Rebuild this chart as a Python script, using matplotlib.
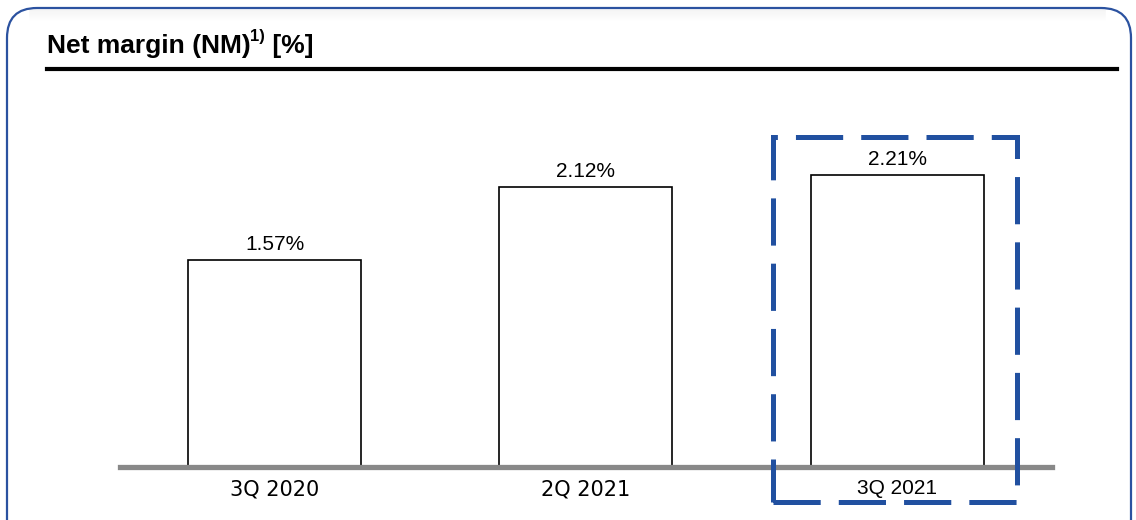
import numpy as np
import matplotlib
matplotlib.use("Agg")
import matplotlib.pyplot as plt
from matplotlib.patches import FancyBboxPatch, Rectangle
from matplotlib.transforms import IdentityTransform

categories = ["3Q 2020", "2Q 2021", "3Q 2021"]
values = [1.57, 2.12, 2.21]
value_labels = ["1.57%", "2.12%", "2.21%"]
tick_fonts = ["DejaVu Sans", "DejaVu Sans", "Liberation Sans"]

W, H, DPI = 1136, 520, 100
fig = plt.figure(figsize=(W / DPI, H / DPI), dpi=DPI)
fig.patch.set_facecolor("white")

# outer rounded frame (pixel coords)
frame = FancyBboxPatch((7, -30), 1124, H - 8 + 30,
                       boxstyle="round,pad=0,rounding_size=30",
                       transform=IdentityTransform(), fill=False,
                       edgecolor="#2b52a0", linewidth=1.6, zorder=5)
fig.patches.append(frame)
# faint shadow under top edge
for i, a in enumerate(np.linspace(0.05, 0.0, 12)):
    fig.add_artist(plt.Line2D([30 / W, 1105 / W], [1 - (10 + i) / H] * 2,
                              color="grey", alpha=a, lw=1.2))

# title
t1 = fig.text(47 / W, 1 - 53 / H, "Net margin (NM)", fontsize=19,
              fontweight="bold", family="Liberation Sans", va="baseline")
t2 = fig.text(0, 0, "1)", fontsize=12, fontweight="bold",
              family="Liberation Sans", va="baseline")
t3 = fig.text(0, 0, " [%]", fontsize=19, fontweight="bold",
              family="Liberation Sans", va="baseline")
fig.canvas.draw()
r = fig.canvas.get_renderer()
bb = t1.get_window_extent(r)
t2.set_position(((bb.x1 - 1) / W, 1 - 41 / H))
bb2 = t2.get_window_extent(r)
t3.set_position((bb2.x1 / W, 1 - 53 / H))
fig.add_artist(plt.Line2D([47 / W, 1117 / W], [1 - 69 / H] * 2,
                          color="black", lw=3.0))

ax = fig.add_axes([120 / W, 53 / H, 932 / W, 370 / H])
x = np.arange(len(categories))
ax.bar(x, values, width=0.556, color="white", edgecolor="black", linewidth=1.2, zorder=2)
for xi, v, lab in zip(x, values, value_labels):
    ax.annotate(lab, (xi, v), xytext=(0, 4), textcoords="offset points",
                ha="center", va="bottom", fontsize=15, family="Liberation Sans")
ax.axhline(0, color="#888888", lw=3.8, zorder=3, clip_on=False)
ax.set_xlim(-0.497, 2.498)
ax.set_ylim(0, 2.8)
ax.set_yticks([])
ax.set_xticks(x, categories)
ax.tick_params(axis="x", length=0, pad=9, labelsize=15)
for lbl, fam in zip(ax.get_xticklabels(), tick_fonts):
    lbl.set_fontfamily(fam)
for s in ax.spines.values():
    s.set_visible(False)

# dashed highlight around last bar
plt.rcParams["lines.scale_dashes"] = False
hl = Rectangle((1.603, -0.265), 2.387 - 1.603, 2.5 + 0.265, fill=False,
               edgecolor="#2150a0", linewidth=3.6, linestyle=(0, (34, 13)),
               clip_on=False, zorder=4)
ax.add_patch(hl)

fig.savefig("out.png", dpi=DPI)
